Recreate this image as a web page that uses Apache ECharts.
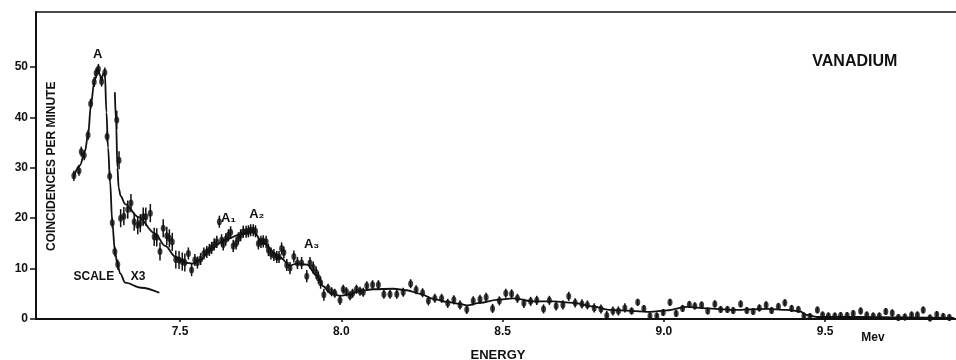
<!DOCTYPE html>
<html><head><meta charset="utf-8">
<script src="https://cdn.jsdelivr.net/npm/echarts@6/dist/echarts.min.js"></script>
<style>html,body{margin:0;padding:0;background:#fff}#c{width:956px;height:360px}</style>
</head><body><div id="c"></div>
<script>
// ---- Data (energy in MeV, coincidences per minute) ----
const xTickValues = [7.5, 8.0, 8.5, 9.0, 9.5];
const yTickValues = [0, 10, 20, 30, 40, 50];

// Peak A, plotted at true scale
const peakE = [7.171, 7.187, 7.194, 7.203, 7.215, 7.223, 7.234, 7.240, 7.247, 7.257, 7.267, 7.274, 7.282, 7.290, 7.298, 7.307];
const peakV = [28.4, 29.4, 33.2, 32.5, 36.5, 42.7, 47.0, 48.8, 49.6, 47.1, 48.9, 36.2, 28.3, 19.1, 13.4, 10.8];
const peakErr = [1.0, 1.0, 1.0, 1.0, 1.0, 1.0, 1.0, 1.0, 1.0, 1.0, 1.0, 1.0, 1.0, 1.0, 1.0, 1.0];

const peakFitE = [7.171, 7.190, 7.205, 7.215, 7.224, 7.234, 7.245, 7.252, 7.256, 7.262, 7.267, 7.272, 7.277, 7.283, 7.290, 7.298, 7.306, 7.315, 7.330, 7.380, 7.436];
const peakFitV = [28.3, 30.5, 33.2, 36.5, 42.5, 47.0, 49.6, 48.4, 47.3, 48.6, 48.8, 41.0, 34.0, 27.5, 19.3, 13.6, 10.8, 9.0, 7.2, 6.2, 5.2];

// Rest of the spectrum, plotted at scale x3
const tailE = [7.304, 7.311, 7.316, 7.326, 7.338, 7.348, 7.358, 7.369, 7.377, 7.386, 7.394, 7.408, 7.420, 7.428, 7.438, 7.448, 7.459, 7.467, 7.476, 7.487,
  7.497, 7.507, 7.515, 7.526, 7.536, 7.546, 7.554, 7.564, 7.574, 7.583, 7.591, 7.598, 7.606, 7.614, 7.622, 7.629, 7.634, 7.642, 7.650, 7.657,
  7.665, 7.674, 7.681, 7.688, 7.696, 7.705, 7.712, 7.719, 7.727, 7.734, 7.743, 7.751, 7.758, 7.767, 7.774, 7.782, 7.791, 7.800, 7.807, 7.815,
  7.822, 7.831, 7.841, 7.853, 7.864, 7.877, 7.893, 7.903, 7.913, 7.922, 7.929, 7.936, 7.946, 7.959, 7.970, 7.980, 7.996, 8.006, 8.016, 8.027,
  8.035, 8.047, 8.058, 8.068, 8.079, 8.097, 8.115, 8.132, 8.151, 8.172, 8.192, 8.215, 8.232, 8.252, 8.270, 8.290, 8.311, 8.330, 8.349, 8.368,
  8.389, 8.409, 8.430, 8.449, 8.469, 8.490, 8.510, 8.528, 8.546, 8.566, 8.587, 8.606, 8.627, 8.645, 8.666, 8.687, 8.705, 8.725, 8.746, 8.763,
  8.784, 8.805, 8.823, 8.842, 8.859, 8.879, 8.900, 8.919, 8.938, 8.957, 8.978, 8.998, 9.019, 9.038, 9.058, 9.079, 9.096, 9.117, 9.136, 9.158,
  9.176, 9.197, 9.215, 9.238, 9.257, 9.277, 9.296, 9.317, 9.334, 9.355, 9.375, 9.396, 9.417, 9.434, 9.453, 9.476, 9.492, 9.510, 9.530, 9.548,
  9.568, 9.587, 9.610, 9.629, 9.649, 9.668, 9.688, 9.708, 9.727, 9.747, 9.768, 9.786, 9.804, 9.825, 9.846, 9.866, 9.885];
const tailV = [39.5, 31.5, 20.0, 20.4, 21.7, 23.0, 19.3, 18.6, 19.0, 20.3, 20.3, 21.0, 16.3, 16.2, 13.4, 18.0, 16.5, 16.0, 15.3, 11.8,
  11.7, 11.4, 11.2, 13.0, 9.7, 11.7, 11.2, 11.9, 13.0, 13.3, 13.7, 14.1, 14.8, 15.3, 19.3, 15.6, 14.8, 15.8, 16.6, 17.2,
  14.5, 15.0, 16.0, 16.6, 17.3, 17.3, 17.4, 17.6, 17.6, 17.4, 15.0, 15.3, 15.4, 15.3, 13.7, 13.0, 12.7, 12.3, 12.3, 14.0,
  13.2, 10.7, 10.1, 12.4, 11.1, 11.1, 8.5, 11.1, 10.2, 9.2, 8.2, 7.2, 4.8, 6.1, 5.4, 5.1, 3.7, 5.9, 5.4, 4.6,
  5.1, 5.9, 5.5, 5.3, 6.6, 6.8, 6.8, 4.9, 4.9, 4.9, 5.3, 7.0, 5.8, 5.2, 3.6, 4.1, 4.1, 3.1, 3.8, 2.8,
  1.9, 3.6, 3.9, 4.3, 2.1, 3.6, 5.1, 5.0, 4.1, 3.1, 3.5, 3.7, 2.0, 3.7, 2.6, 2.8, 4.5, 3.2, 3.0, 2.8,
  2.2, 2.0, 0.7, 1.6, 1.6, 2.2, 1.6, 3.3, 2.1, 0.6, 0.6, 1.3, 3.3, 1.1, 2.1, 2.9, 2.6, 2.8, 1.6, 3.0,
  1.9, 1.9, 1.7, 3.0, 1.7, 1.5, 2.2, 2.8, 1.7, 2.5, 3.2, 2.1, 1.9, 0.6, 0.5, 1.8, 0.8, 0.6, 0.6, 0.7,
  0.7, 1.1, 1.6, 0.8, 0.6, 0.6, 1.5, 1.2, 0.3, 0.4, 0.8, 0.8, 1.8, 0.2, 0.9, 0.5, 0.3];
// error-bar half heights read per energy band: [band start (MeV), half height]
const tailErrBands = [[7.30, 1.8], [7.52, 1.2], [7.95, 0.9], [8.90, 0.7]];

const tailFitE = [7.298, 7.302, 7.306, 7.310, 7.316, 7.330, 7.371, 7.422, 7.454, 7.487, 7.515, 7.541, 7.565, 7.593, 7.645, 7.686, 7.727, 7.758, 7.810, 7.841,
  7.862, 7.893, 7.924, 7.944, 7.965, 7.996, 8.027, 8.058, 8.099, 8.161, 8.203, 8.244, 8.285, 8.327, 8.368, 8.389, 8.430, 8.482, 8.533, 8.595,
  8.657, 8.719, 8.781, 8.830, 8.864, 8.957, 9.009, 9.071, 9.133, 9.215, 9.319, 9.381, 9.422, 9.443, 9.474, 9.600, 9.750, 9.900];
const tailFitV = [45.0, 39.0, 30.0, 26.0, 24.4, 22.8, 20.2, 17.0, 14.5, 12.3, 11.2, 11.0, 11.8, 13.9, 15.8, 16.8, 17.4, 15.0, 12.2, 10.6,
  11.0, 10.8, 8.6, 6.5, 5.2, 4.6, 4.9, 5.6, 5.9, 6.0, 5.7, 5.0, 4.0, 3.4, 3.0, 2.7, 3.2, 3.8, 4.1, 3.5,
  3.5, 3.2, 2.5, 1.8, 1.7, 1.4, 1.7, 2.4, 2.1, 1.8, 2.0, 1.8, 1.5, 0.8, 0.4, 0.4, 0.3, 0.2];

// Text annotations: [text, energy, value, fontSize, rotation]
const notes = [
  ['A', 7.245, 52.4, 13],
  ['A\u2081', 7.650, 20.0, 13],
  ['A\u2082', 7.738, 20.8, 13],
  ['A\u2083', 7.908, 14.7, 13],
  ['SCALE', 7.233, 8.3, 12],
  ['X3', 7.370, 8.3, 12],
  ['VANADIUM', 9.592, 51.0, 16],
  ['Mev', 9.648, -3.8, 12],
  ['COINCIDENCES PER MINUTE', 7.103, 30.3, 12, 90]
];

// ---- Chart ----
const FONT = "'Liberation Sans', Arial, sans-serif";
const INK = '#111';
const zip = (a, b) => a.map((v, i) => [v, b[i]]);
const bandErr = e => { let h = tailErrBands[0][1]; tailErrBands.forEach(b => { if (e >= b[0]) h = b[1]; }); return h; };
const peakPts = peakE.map((e, i) => [e, peakV[i], peakErr[i]]);
const tailPts = tailE.map((e, i) => [e, tailV[i], bandErr(e)]);

function errBar(params, api) {
  const x = api.value(0), y = api.value(1), h = api.value(2);
  const p1 = api.coord([x, y - h]), p2 = api.coord([x, y + h]);
  return { type: 'line', shape: { x1: p1[0], y1: p1[1], x2: p2[0], y2: p2[1] }, style: { stroke: INK, lineWidth: 1.5 } };
}

const chart = echarts.init(document.getElementById('c'), null, { renderer: 'canvas' });
const fitLine = data => ({ type: 'line', data, smooth: 0.35, smoothMonotone: 'x', showSymbol: false, symbol: 'none',
  lineStyle: { color: INK, width: 1.8 }, silent: true, animation: false, z: 2 });
const dots = data => ({ type: 'scatter', data, symbol: 'circle', symbolSize: [5, 7], itemStyle: { color: INK }, animation: false, z: 4 });
const bars = data => ({ type: 'custom', data, renderItem: errBar, encode: { x: 0, y: 1 }, animation: false, z: 3 });

chart.setOption({
  backgroundColor: '#fff',
  animation: false,
  grid: { left: 36, right: -4, top: 12, bottom: 41, containLabel: false, outerBoundsMode: 'none',
    show: true, borderColor: INK, borderWidth: 1.5, backgroundColor: 'transparent' },
  xAxis: {
    type: 'value', min: 7.0536, max: 9.918,
    name: 'ENERGY', nameLocation: 'middle', nameGap: 30, nameMoveOverlap: false,
    nameTextStyle: { color: INK, fontFamily: FONT, fontWeight: 'bold', fontSize: 13 },
    axisLine: { lineStyle: { color: INK, width: 2 } },
    axisTick: { show: true, length: 3, customValues: xTickValues, lineStyle: { color: INK, width: 1.5 } },
    axisLabel: { customValues: xTickValues, formatter: v => v.toFixed(1), margin: 7, color: INK, fontFamily: FONT, fontWeight: 'bold', fontSize: 12 },
    splitLine: { show: false }
  },
  yAxis: {
    type: 'value', min: 0, max: 60.9,
    axisLine: { show: true, lineStyle: { color: INK, width: 2 } },
    axisTick: { show: true, length: 6, customValues: yTickValues, lineStyle: { color: INK, width: 1.5 } },
    axisLabel: { customValues: yTickValues, margin: 8, color: INK, fontFamily: FONT, fontWeight: 'bold', fontSize: 12 },
    splitLine: { show: false }
  },
  series: [fitLine(zip(peakFitE, peakFitV)), fitLine(zip(tailFitE, tailFitV)), bars(peakPts), bars(tailPts), dots(peakPts), dots(tailPts)]
});

chart.setOption({
  graphic: notes.map(n => {
    const p = chart.convertToPixel({ gridIndex: 0 }, [n[1], n[2]]);
    return { type: 'text', x: p[0], y: p[1], z: 10, rotation: n[4] ? n[4] * Math.PI / 180 : 0,
      style: { text: n[0], fill: INK, align: 'center', verticalAlign: 'middle', font: 'bold ' + n[3] + 'px ' + FONT } };
  })
});
</script></body></html>
